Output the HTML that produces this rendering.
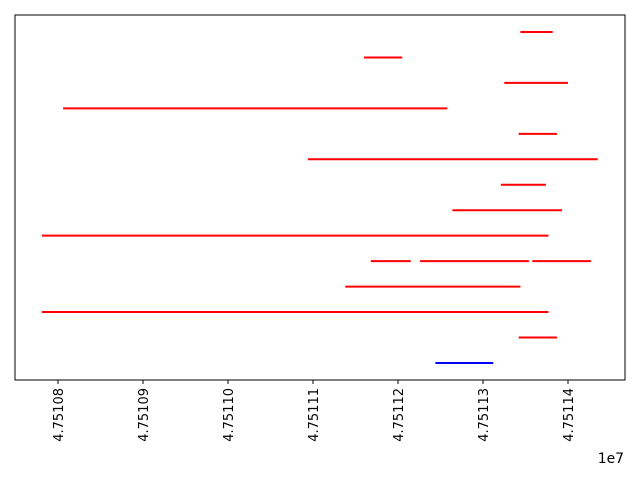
<!DOCTYPE html>
<html><head><meta charset="utf-8"><style>
body{margin:0;background:#fff;font-family:"DejaVu Sans","Liberation Sans",sans-serif}
</style></head><body>
<svg id="c" width="640" height="480" xmlns="http://www.w3.org/2000/svg" font-family="DejaVu Sans, Liberation Sans, sans-serif">
<rect x="15" y="15" width="610" height="365" fill="#fff" stroke="#000" stroke-width="1"/>
<g id="marks"></g>
<g id="ticks"></g>
<text x="624" y="463" font-size="13.9" text-anchor="end">1e7</text>
</svg>
<script>
const rows = [0,1,2,3,4,5,6,7,8,9,9,9,10,11,12,13];
const starts = [47511344,47511160,47511325,47510806,47511342,47511094,47511321,47511264,47510781,47511168,47511226,47511358,47511138,47510781,47511342,47511244];
const ends = [47511382,47511205,47511400,47511258,47511387,47511435,47511374,47511393,47511377,47511215,47511354,47511427,47511344,47511377,47511387,47511312];
const colors = ["red","red","red","red","red","red","red","red","red","red","red","red","red","red","red","blue"];
const tickVals = [47510800,47510900,47511000,47511100,47511200,47511300,47511400];
const tickLabels = ["4.75108","4.75109","4.75110","4.75111","4.75112","4.75113","4.75114"];
const xs = v => 58 + (v - 47510800) * 0.85;
const ys = r => 32 + r * 25.46;
const NS = "http://www.w3.org/2000/svg";
const marks = document.getElementById("marks");
for (let i = 0; i < starts.length; i++) {
  const l = document.createElementNS(NS, "line");
  l.setAttribute("x1", xs(starts[i])); l.setAttribute("x2", xs(ends[i]));
  l.setAttribute("y1", ys(rows[i])); l.setAttribute("y2", ys(rows[i]));
  l.setAttribute("stroke", colors[i]); l.setAttribute("stroke-width", "2");
  
  
  marks.appendChild(l);
}
const tg = document.getElementById("ticks");
for (let i = 0; i < tickVals.length; i++) {
  const x = xs(tickVals[i]);
  const t = document.createElementNS(NS, "line");
  t.setAttribute("x1", x); t.setAttribute("x2", x); t.setAttribute("y1", 380); t.setAttribute("y2", 384);
  t.setAttribute("stroke", "#000");
  
  
  tg.appendChild(t);
  const tx = document.createElementNS(NS, "text");
  tx.setAttribute("transform", `translate(${x+5},388) rotate(-90)`);
  tx.setAttribute("text-anchor", "end");
  tx.setAttribute("font-size", "13");
  tx.textContent = tickLabels[i];
  
  
  tg.appendChild(tx);
}
</script>
</body></html>
